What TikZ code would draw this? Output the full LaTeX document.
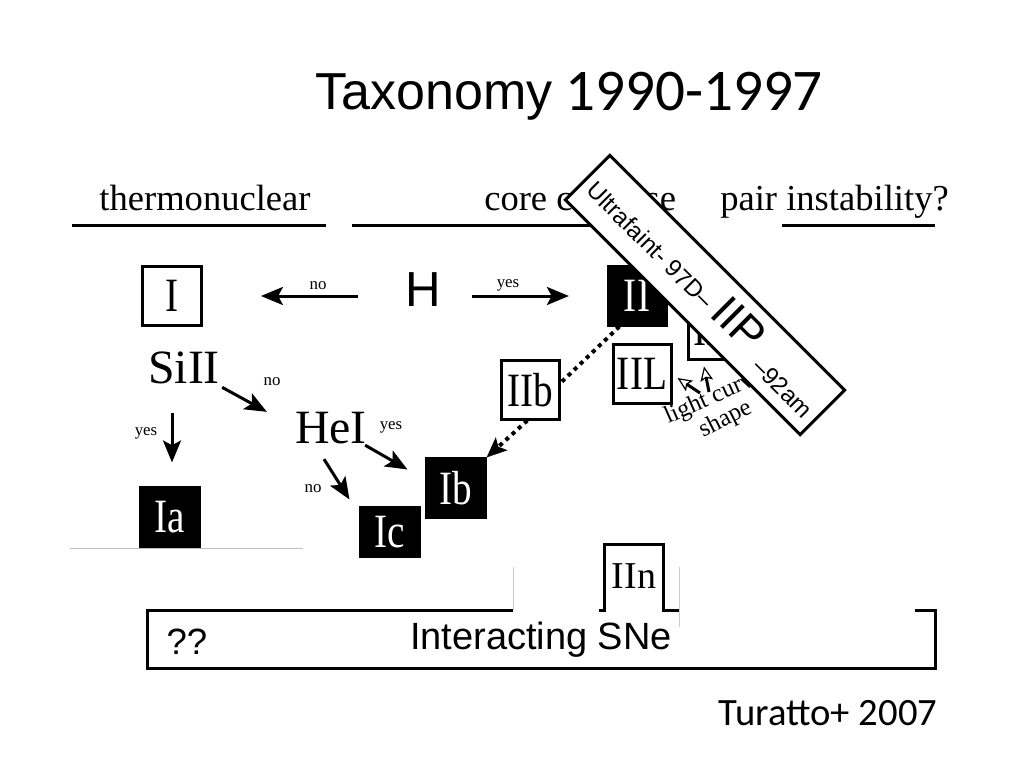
\documentclass[tikz,border=0pt]{standalone}
\usepackage{fontspec}
\usepackage{graphicx}
\setmainfont{Liberation Serif}
\newfontfamily\arialfont{Liberation Sans}
\newfontfamily\calibrifont{Carlito}
\usetikzlibrary{arrows.meta,calc}
\newcommand{\fsz}[1]{\fontsize{#1pt}{#1pt}\selectfont}
\newcommand{\boxlbl}[1]{\scalebox{0.82}[1]{#1}}
\tikzset{
	snbox/.style={draw, line width=0.075cm, minimum width=1.45cm, minimum height=1.45cm, inner sep=0pt, font=\fsz{34}},
	snfill/.style={snbox, fill=black, text=white},
	snword/.style={inner sep=0pt, font=\fsz{34}},
	yesno/.style={inner sep=0pt, font=\fsz{12}},
	header/.style={inner sep=0pt, font=\fsz{26}},
	headrule/.style={line width=0.075cm},
	arr/.style={line width=0.075cm, -{Stealth[length=0.55cm, width=0.45cm, inset=0.12cm]}},
	dotarr/.style={line width=0.1cm, dash pattern=on 0.1cm off 0.11cm},
	lcarr/.style={line width=0.075cm, -{Stealth[fill=white, length=0.36cm, width=0.32cm, inset=0.07cm, line width=0.03cm]}},
}

\begin{document}
\begin{tikzpicture}[x=0.025cm, y=-0.025cm]
		%%%%% START %%%%%
		\fill[white] (0,0) rectangle (1024,768);
		\useasboundingbox (0,0) rectangle (1024,768);
		
		\node[font=\arialfont\fsz{37}, inner sep=0pt, anchor=base east] (taxo) at (553,110) {Taxonomy};
		\node[font=\calibrifont\fsz{42}, inner sep=0pt, anchor=base west] (years) at (565,111) {1990-1997};
		
		\node[header, anchor=base] (thermo) at (205,210) {thermonuclear};
		\node[header, anchor=base west] (core) at (484,210) {core collapse};
		\node[header, anchor=base west] (pair) at (720,210) {pair instability?};
		\draw[headrule] (72,225) -- (326,225);
		\draw[headrule] (352,225) -- (620,225);
		\draw[headrule] (782,225) -- (935,225);
		
		\node[snbox] (I) at (172,296) {\boxlbl{I}};
		\node[inner sep=0pt, font=\arialfont\fsz{35}] (H) at (423,290) {H};
		\node[snfill] (II) at (637,296) {\boxlbl{II}};
		\node[snbox] (IIP) at (717,330) {\boxlbl{IIP}};
		\node[snbox] (IIL) at (642,374) {\boxlbl{IIL}};
		\node[snbox] (IIb) at (530,390) {\boxlbl{IIb}};
		
		\node[snword] (SiII) at (184,368) {SiII};
		\node[snword] (HeI) at (331,428) {HeI};
		\node[snfill] (Ia) at (170,517) {\boxlbl{Ia}};
		\node[snfill] (Ib) at (456,488) {\boxlbl{Ib}};
		\node[snfill, minimum height=1.2cm] (Ic) at (390,532) {\boxlbl{Ic}};
		\draw[line width=0.02cm, color=black!25] (70,548) -- (303,548);
		
		\draw[arr, shorten <=1.17cm, shorten >=1.46cm] (H.west |- I.east) -- (I.east);
		\draw[arr, shorten <=0.78cm, shorten >=0.94cm] (H.east |- II.west) -- (II.west);
		\node[yesno] (noH) at (318,286) {no};
		\node[yesno] (yesH) at (508,285) {yes};
		
		\draw[arr] ([shift={(2,3)}]SiII.south east) -- ([shift={(-28,0)}]HeI.north west);
		\draw[arr] ([shift={(-12,29)}]SiII.south) -- ([shift={(2,-24)}]Ia.north);
		\node[yesno] (noSi) at (272,382) {no};
		\node[yesno] (yesSi) at (146,433) {yes};
		
		\draw[arr] ([shift={(-2,1)}]HeI.south east) -- ([shift={(-18,12)}]Ib.north west);
		\draw[arr] ([shift={(-7,15)}]HeI.south) -- ([shift={(-10,-7)}]Ic.north west);
		\node[yesno] (yesHe) at (391,427) {yes};
		\node[yesno] (noHe) at (313,489) {no};
		
		\draw[dotarr] (II.240) -- (IIb.13);
		\draw[dotarr, -{Stealth[length=0.5cm, width=0.42cm, inset=0.1cm]}] (IIb.265) -- (Ib.north east);
		
		\node[inner sep=0pt, font=\fsz{17.5}, rotate=24, anchor=base west] (lcurve) at (668,424) {light curve};
		\node[inner sep=0pt, font=\fsz{17.5}, rotate=27, anchor=base west] (lshape) at (703,438) {shape};
		\coordinate (lcA) at (700,393);
		\coordinate (lcB) at (709,392);
		\draw[lcarr] (lcA) -- ([shift={(5,4)}]IIL.east);
		\draw[lcarr] (lcB) -- ([shift={(-13,6)}]IIP.south);
		
		\node[draw, fill=white, line width=0.075cm, rotate=-45, minimum width=8.3cm, minimum height=1.575cm, inner sep=0pt, font=\arialfont] (IIPband) at (705,295) {\fsz{17}Ultrafaint- 97D– \fsz{32}IIP \fsz{17}\raisebox{-0.6ex}{–92am}};
		
		\draw[headrule] (513,610) -- (147,610) -- (147,668) -- (935,668) -- (935,610) -- (915,610);
		\draw[headrule] (599,610) -- (604,610) -- (604,544) -- (663,544) -- (663,610) -- (679,610);
		\draw[line width=0.02cm, color=black!20] (513,567) -- (513,610);
		\draw[line width=0.02cm, color=black!20] (679,567) -- (679,627);
		\node[font=\fsz{27}, inner sep=0pt] (IIn) at (634,576) {IIn};
		\node[font=\arialfont\fsz{26}, inner sep=0pt] (qq) at (187,642) {??};
		\node[font=\arialfont\fsz{27}, inner sep=0pt] (inter) at (541,640) {Interacting SNe};
		
		\node[font=\calibrifont\fsz{27.5}, inner sep=0pt, anchor=base] (ref) at (828,725) {Turatto+ 2007};
		%%%%% END %%%%%
\end{tikzpicture}
\end{document}
